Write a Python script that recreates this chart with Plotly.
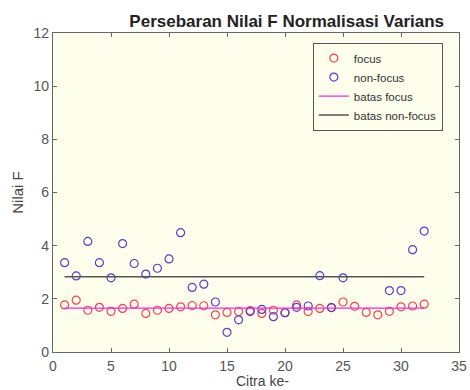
import plotly.graph_objects as go

citra = list(range(1, 33))
focus = [1.77, 1.95, 1.57, 1.68, 1.53, 1.64, 1.80, 1.45, 1.57, 1.64, 1.70, 1.75, 1.74, 1.40, 1.49, 1.52,
         1.56, 1.45, 1.57, 1.48, 1.77, 1.52, 1.64, 1.67, 1.88, 1.72, 1.49, 1.40, 1.53, 1.70, 1.73, 1.80]
non_focus = [3.36, 2.86, 4.16, 3.36, 2.79, 4.08, 3.33, 2.93, 3.15, 3.50, 4.49, 2.43, 2.55, 1.88, 0.74, 1.21,
             1.52, 1.60, 1.33, 1.48, 1.68, 1.73, 2.87, 1.67, 2.79, None, None, None, 2.31, 2.31, 3.85, 4.55]
batas_x = [1, 32]
batas_focus = 1.65
batas_non_focus = 2.83

font = "Liberation Sans, Arial, sans-serif"

fig = go.Figure()
fig.add_trace(go.Scatter(x=citra, y=focus, mode="markers", name="focus",
                         marker=dict(symbol="circle-open", size=8, color="#f0454a", line=dict(width=1.2))))
fig.add_trace(go.Scatter(x=citra, y=non_focus, mode="markers", name="non-focus",
                         marker=dict(symbol="circle-open", size=8, color="#5a3ad6", line=dict(width=1.2))))
fig.add_trace(go.Scatter(x=batas_x, y=[batas_focus] * 2, mode="lines", name="batas focus",
                         line=dict(color="#ff22dd", width=1.2)))
fig.add_trace(go.Scatter(x=batas_x, y=[batas_non_focus] * 2, mode="lines", name="batas non-focus",
                         line=dict(color="#555555", width=1.5)))

axis_common = dict(showgrid=False, zeroline=False, showline=True, linecolor="#666666", linewidth=1.2,
                   mirror="ticks", ticks="inside", ticklen=4, tickcolor="#666666", automargin=False,
                   tickfont=dict(family=font, size=14, color="#555555"))

fig.update_layout(
    width=470, height=390,
    margin=dict(l=53, r=11, t=33, b=38),
    paper_bgcolor="white", plot_bgcolor="#fefeec",
    font=dict(family=font, color="#333333"),
    title=dict(text="<b>Persebaran Nilai F Normalisasi Varians</b>", x=0.61, xanchor="center",
               y=1 - 21 / 390, yanchor="middle", font=dict(family=font, size=17, color="#222222")),
    xaxis=dict(range=[0, 35], tickvals=[0, 5, 10, 15, 20, 25, 30, 35], ticklabelstandoff=1,
               **axis_common),
    yaxis=dict(range=[0, 12], tickvals=[0, 2, 4, 6, 8, 10, 12],
               title=dict(text="Nilai F", font=dict(family=font, size=15, color="#444444"), standoff=6),
               **axis_common),
    legend=dict(x=0.64, y=0.97, xanchor="left", yanchor="top", bgcolor="#fefeec",
                bordercolor="#555555", borderwidth=1, font=dict(family=font, size=11.5, color="#333333"),
                tracegroupgap=0, itemwidth=30),
    showlegend=True,
    annotations=[dict(text="Citra ke-", xref="paper", yref="paper", x=0.515, y=-37.5 / 319,
                      xanchor="center", yanchor="bottom", showarrow=False, borderpad=0,
                      font=dict(family=font, size=14, color="#444444"))],
)

fig.write_html("out.html")
